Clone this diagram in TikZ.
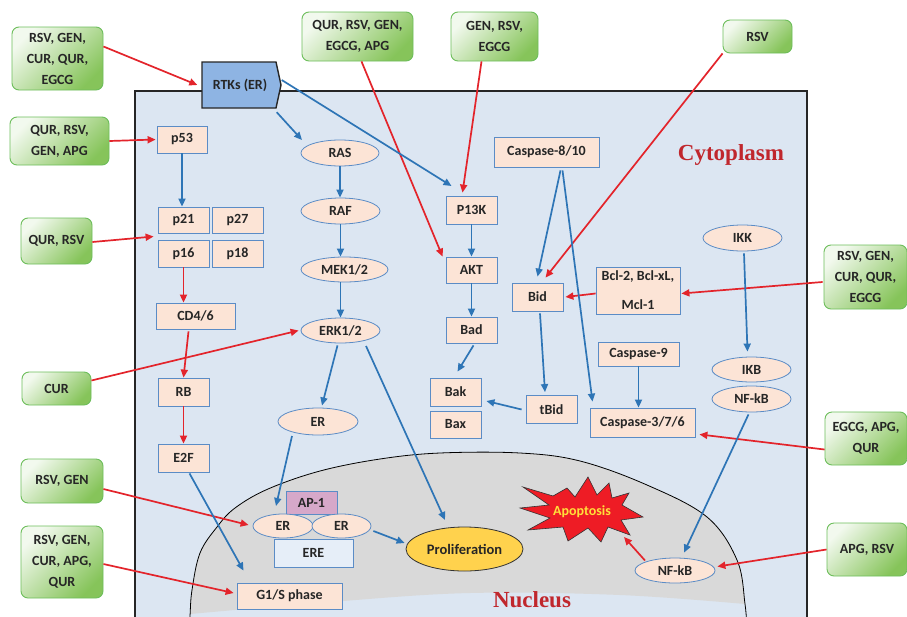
\documentclass[tikz,border=0pt]{standalone}
\usepackage{fontspec}
\setmainfont{Carlito}
\newfontfamily\titlefont{Liberation Serif}
\usetikzlibrary{arrows.meta,calc,shapes.geometric}
\definecolor{cellbg}{HTML}{DCE6F2}
\definecolor{nucgray}{HTML}{D9D9D9}
\definecolor{salmon}{HTML}{FCE4D6}
\definecolor{boxblue}{HTML}{5B8CC6}
\definecolor{arrred}{HTML}{E3242B}
\definecolor{arrblue}{HTML}{2E75B6}
\definecolor{grnlight}{HTML}{F2F9EE}
\definecolor{grndark}{HTML}{86C45A}
\definecolor{grnedge}{HTML}{6DBE5B}
\definecolor{rtkfill}{HTML}{8EB4E3}
\definecolor{titlered}{HTML}{C0272D}
\definecolor{apofill}{HTML}{EE1C25}
\definecolor{apotext}{HTML}{FFE03A}
\definecolor{profill}{HTML}{FFD24D}
\definecolor{ap1fill}{HTML}{D6A8C9}
\definecolor{erefill}{HTML}{E6EEF8}
\tikzset{
  sz/.style n args={2}{minimum width=#1pt, minimum height=#2pt},
  agent/.style={rounded corners=7pt, draw=grnedge, line width=0.9pt,
    top color=grnlight, bottom color=grndark, shading angle=45,
    align=center, font=\bfseries\fontsize{14}{21}\selectfont, text=black!85, inner sep=0pt},
  mol/.style={draw=boxblue, line width=0.8pt, fill=salmon, align=center,
    font=\bfseries\fontsize{14}{16}\selectfont, text=black!85, inner sep=0pt},
  molell/.style={mol, ellipse},
  redarr/.style={draw=arrred, line width=1.7pt, -{Triangle[length=8pt,width=7pt]}},
  bluearr/.style={draw=arrblue, line width=1.7pt, -{Triangle[length=8pt,width=7pt]}},
  region/.style={font=\titlefont\bfseries\fontsize{23}{26}\selectfont, text=titlered}
}
\begin{document}
\begin{tikzpicture}[x=1pt,y=-1pt]
\clip (0,0) rectangle (907,616);
\fill[white] (0,0) rectangle (907,616);
% cell
\draw[fill=cellbg, line width=1.6pt, draw=black!85] (135,91) rectangle (807,640);
% nucleus
\fill[nucgray] plot[smooth,tension=0.6] coordinates {(190,616)(192,590)(200,553)(217,527)(235,508)(268,489)(320,471)(380,459)(440,453)(520,453)(580,461)(647,485)(707,517)(737,560)(745,604)}
  -- plot[smooth,tension=0.6] coordinates {(745,604)(620,595)(470,593)(330,602)(190,614)} -- cycle;
\draw[line width=0.8pt] plot[smooth,tension=0.6] coordinates {(189,630)(190,616)(192,590)(200,553)(217,527)(235,508)(268,489)(320,471)(380,459)(440,453)(520,453)(580,461)(647,485)(707,517)(737,560)(745,604)(747,630)};
% region labels
\node[region] (cyto) at (731,155) {Cytoplasm};
\node[region] (nucl) at (532,600) {Nucleus};
% agents
\node[agent, sz={91}{63}] (g1) at (57.5,58.5) {RSV, GEN,\\CUR, QUR,\\EGCG};
\node[agent, sz={99}{48}] (g2) at (59.5,141) {QUR, RSV,\\GEN, APG};
\node[agent, sz={111}{49}] (g3) at (357.5,36.5) {QUR, RSV, GEN,\\EGCG, APG};
\node[agent, sz={87}{49}] (g4) at (494.5,36.5) {GEN, RSV,\\EGCG};
\node[agent, sz={69}{33}] (g5) at (757.5,36.5) {RSV};
\node[agent, sz={71}{46}] (g6) at (56.5,241) {QUR, RSV};
\node[agent, sz={69}{33}] (g7) at (56.5,388.5) {CUR};
\node[agent, sz={82}{44}] (g8) at (62,481) {RSV, GEN};
\node[agent, sz={82}{72}] (g9) at (62,562) {RSV, GEN,\\CUR, APG,\\QUR};
\node[agent, sz={83}{64}] (g10) at (865.5,277) {RSV, GEN,\\CUR, QUR,\\EGCG};
\node[agent, sz={82}{53}] (g11) at (866,438.5) {EGCG, APG,\\QUR};
\node[agent, sz={80}{53}] (g12) at (867,549.5) {APG, RSV};
% RTKs
\draw[fill=rtkfill, draw=black!85, line width=1.4pt, line join=miter] (202,62) -- (276,62) -- (281,85) -- (276,108) -- (202,108) -- cycle;
\node[font=\bfseries\fontsize{14}{16}\selectfont, text=black!85, sz={79}{46}, inner sep=0pt] (rtk) at (240,85) {RTKs (ER)};
% left column
\node[mol, sz={50}{27}] (p53) at (182,139.5) {p53};
\node[mol, sz={51}{26}] (p21) at (183.5,220) {p21};
\node[mol, sz={51}{26}] (p27) at (237.5,220) {p27};
\node[mol, sz={51}{27}] (p16) at (183.5,253.5) {p16};
\node[mol, sz={51}{27}] (p18) at (237.5,253.5) {p18};
\node[mol, sz={79}{26}] (cd46) at (195.5,316) {CD4/6};
\node[mol, sz={51}{28}] (rb) at (183.5,392) {RB};
\node[mol, sz={51}{28}] (e2f) at (183.5,458) {E2F};
\node[mol, sz={105}{26}] (g1s) at (289.5,596) {G1/S phase};
% MAPK column
\node[molell, sz={78}{26}] (ras) at (340,153) {RAS};
\node[molell, sz={79}{26}] (raf) at (340.5,211) {RAF};
\node[molell, sz={87}{25}] (mek) at (344.5,269.5) {MEK1/2};
\node[molell, sz={79}{25}] (erk) at (340.5,330.5) {ERK1/2};
\node[molell, sz={80}{27}] (erc) at (318,421.5) {ER};
% PI3K column
\node[mol, sz={51}{28}] (p13k) at (471.5,210) {P13K};
\node[mol, sz={51}{26}] (akt) at (471.5,270) {AKT};
\node[mol, sz={51}{26}] (bad) at (471.5,330) {Bad};
\node[mol, sz={51}{28}] (bak) at (455.5,392) {Bak};
\node[mol, sz={51}{27}] (bax) at (455.5,424.5) {Bax};
% apoptosis column
\node[mol, sz={105}{30}] (c810) at (546.5,152) {Caspase-8/10};
\node[mol, sz={51}{28}] (bid) at (537.5,297) {Bid};
\node[mol, sz={51}{28}] (tbid) at (551.5,409.5) {tBid};
\node[mol, sz={84}{47}, font=\bfseries\fontsize{14}{29}\selectfont] (bcl) at (638,290.5) {Bcl-2, Bcl-xL,\\Mcl-1};
\node[mol, sz={81}{24}] (c9) at (638.5,354) {Caspase-9};
\node[mol, sz={105}{29}] (c37) at (642.5,422.5) {Caspase-3/7/6};
% NF-kB column
\node[molell, sz={79}{26}] (ikk) at (742.5,238) {IKK};
\node[molell, sz={79}{25}] (ikb) at (751.5,369.5) {IKB};
\node[molell, sz={79}{26}] (nfkbc) at (751.5,399) {NF-kB};
\node[molell, sz={80}{25}] (nfkbn) at (675,570.5) {NF-kB};
% nucleus complex
\node[mol, fill=erefill, sz={79}{28}, text depth=0pt] (ere) at (313.5,553) {ERE};
\node[mol, fill=ap1fill, sz={51}{23}] (ap1) at (311.5,502.5) {AP-1};
\node[molell, sz={60}{24}] (erl) at (283,526) {ER};
\node[molell, sz={59}{24}] (err) at (341.5,526) {ER};
\node[ellipse, draw=black!80, line width=0.8pt, fill=profill, sz={117}{44}, inner sep=0pt,
  font=\bfseries\fontsize{14.5}{16}\selectfont, text=black!85] (prolif) at (464.5,549) {Proliferation};
% apoptosis burst
\draw[fill=apofill, draw=black!80, line width=0.6pt, line join=miter]
  (523,487) -- (553,496) -- (567,488) -- (575,497) -- (588,477) -- (597,495) -- (609,483) -- (612,498)
  -- (629,493) -- (622,505) -- (643,517) -- (621,520) -- (630,535) -- (608,527) -- (601,542)
  -- (588,528) -- (568,541) -- (563,527) -- (528,530) -- (550,518) -- (520,508) -- (549,505) -- cycle;
\node[font=\bfseries\fontsize{14}{16}\selectfont, text=apotext] (apop) at (582,512) {Apoptosis};
% red arrows
\draw[redarr] ($(g1.east)+(0,-12)$) -- ($(rtk.west)+(-3,0)$);
\draw[redarr] (g2.east) -- ($(p53.west)+(-1,0)$);
\draw[redarr] ($(g3.south)+(4,0)$) -- ($(akt.north west)+(-3,0)$);
\draw[redarr] ($(g4.south)+(-13,0)$) -- ($(p13k.north)+(-9,-3)$);
\draw[redarr] (g5.south west) -- ($(bid.north)+(8,-5)$);
\draw[redarr] ($(g6.east)+(0,1)$) -- ($(p21.south west)!0.5!(p16.north west)+(-4,0)$);
\draw[redarr] (p16.south) -- (p16.south |- cd46.north);
\draw[redarr] ($(cd46.south)+(-7,2)$) -- (rb.north);
\draw[redarr] (rb.south) -- (e2f.north);
\draw[redarr] ($(g7.east)+(0,-8)$) -- ($(erk.west)+(-2,0)$);
\draw[redarr] ($(g8.east)+(0,8)$) -- ($(erl.west)+(-4,-1)$);
\draw[redarr] ($(g9.east)+(0,2)$) -- ($(g1s.west)+(-3,-3)$);
\draw[redarr] ($(g10.west)+(-1,5)$) -- ($(bcl.east)+(1,3)$);
\draw[redarr] ($(bcl.west)+(0,3)$) -- ($(bid.east)+(2,0)$);
\draw[redarr] ($(g11.west)+(0,11)$) -- ($(c37.south east)+(4,-3)$);
\draw[redarr] (g12.west) -- ($(nfkbn.east)+(2,-4)$);
\draw[redarr] ($(nfkbn.center)+(-30,-10)$) -- ($(apop.center)+(42,25)$);
% blue arrows
\draw[bluearr] ($(rtk.south east)+(-3,4)$) -- ($(ras.center)+(-38,-13)$);
\draw[bluearr] ($(rtk.east)+(2,-5)$) -- ($(p13k.center)+(-20,-24)$);
\draw[bluearr] (p53.south) -- (p53.south |- p21.north);
\draw[bluearr] (ras.south) -- (ras.south |- raf.north);
\draw[bluearr] (raf.south) -- (raf.south |- mek.north);
\draw[bluearr] (erk.north |- mek.south) -- (erk.north);
\draw[bluearr] ($(erk.south)+(-3,2)$) -- ($(erc.center)+(4,-16)$);
\draw[bluearr] ($(erk.center)+(25.5,15.5)$) -- ($(prolif.center)+(-19.5,-29)$);
\draw[bluearr] (p13k.south) -- (akt.north);
\draw[bluearr] (akt.south) -- (bad.north);
\draw[bluearr] ($(bad.south)+(2,2)$) -- ($(bak.north)+(2,-6)$);
\draw[bluearr] ($(tbid.west)+(-4,0)$) -- ($(bak.east)+(5,9)$);
\draw[bluearr] ($(bid.south)+(2.5,2)$) -- ($(tbid.north)+(-6.5,-3)$);
\draw[bluearr] ($(c810.south)+(14,3)$) -- ($(bid.north)+(0,-6)$);
\draw[bluearr] ($(c810.south)+(16,3)$) -- ($(c37.north)+(-50,-6)$);
\draw[bluearr] (c9.south) -- (c9.south |- c37.north);
\draw[bluearr] ($(ikk.south)+(1.5,2)$) -- ($(ikb.north)+(-4,-5)$);
\draw[bluearr] ($(nfkbc.south)+(-3,2)$) -- ($(nfkbn.north)+(9,-5)$);
\draw[bluearr] ($(e2f.south)+(6,1)$) -- ($(g1s.north)+(-46,-12)$);
\draw[bluearr] ($(erc.center)+(-26,14.5)$) -- ($(erl.center)+(-7,-20)$);
\draw[bluearr] ($(err.east)+(2,5)$) -- ($(prolif.west)+(-1,-6)$);
\end{tikzpicture}
\end{document}
